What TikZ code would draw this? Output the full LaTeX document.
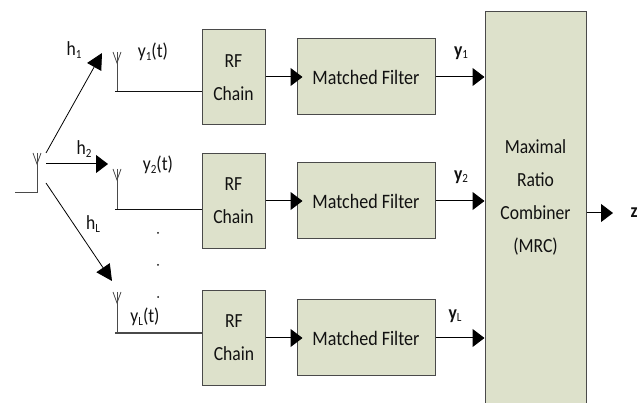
\documentclass[tikz,border=0pt]{standalone}
\usepackage{fontspec}
\setmainfont[FakeStretch=0.88]{Carlito}
\usetikzlibrary{arrows.meta,calc}
\definecolor{boxfill}{HTML}{DDE1CB}
\definecolor{boxedge}{HTML}{4A4A4A}
\definecolor{ink}{HTML}{111111}
\newcommand{\lowsub}[1]{\raisebox{-2.5pt}{\fontsize{12.5}{12.5}\selectfont #1}}
\tikzset{
  every node/.style={text=ink,font=\fontsize{20}{33}\selectfont},
  block/.style={draw=boxedge,fill=boxfill,line width=1pt,inner sep=0pt,align=center},
  rfbox/.style={block,minimum width=63,minimum height=95},
  mfbox/.style={block,minimum width=138,minimum height=76,font=\fontsize{20.5}{33}\selectfont},
  mrcbox/.style={block,minimum width=101,minimum height=393},
  wire/.style={draw=ink,line width=1pt},
  flow/.style={draw=black,line width=1pt,-{Triangle[length=12,width=18]}},
  ray/.style={draw=black,line width=.8pt,-{Triangle[length=16,width=16]}},
  aerial/.style={draw=boxedge,line width=.8pt},
  lbl/.style={inner sep=0pt},
  dotmark/.style={circle,fill=ink,inner sep=0pt,minimum size=2}
}
\newcommand{\aerialmark}[1]{%
  \draw[aerial] (#1)++(-4,-11)--++(4,11)--++(4,-11);
  \draw[aerial] (#1)++(0,-11)--++(0,11);
}
\begin{document}
\begin{tikzpicture}[x=1pt,y=-1pt]
\useasboundingbox (0,0) rectangle (643,403);
% blocks
\node[rfbox] (rf1) at (233.5,77.5) {RF\\Chain};
\node[rfbox] (rf2) at (233.5,201) {RF\\Chain};
\node[rfbox] (rf3) at (234,338) {RF\\Chain};
\node[mfbox] (mf1) at (366,77) {Matched Filter};
\node[mfbox] (mf2) at (366,201) {Matched Filter};
\node[mfbox] (mf3) at (366,338) {Matched Filter};
\node[mrcbox] (mrc) at (535.5,208.5) {};
\node[lbl,align=center] (mrctext) at (535.5,197) {Maximal\\Ratio\\Combiner\\(MRC)};
% antenna tops and feet
\coordinate (src) at (37,193);
\coordinate (srcfeed) at (15,193);
\coordinate (ant1) at (117,92);
\coordinate (ant2) at (117,210);
\coordinate (ant3) at (117,333);
\coordinate (src top) at (37,164);
\coordinate (a1 top) at (117,63);
\coordinate (a2 top) at (117,180);
\coordinate (a3 top) at (117,303);
\draw[wire,draw=boxedge] (srcfeed) -- (src) -- (src top);
\draw[wire,draw=boxedge] (ant1) -- (a1 top);
\draw[wire,draw=boxedge] (ant2) -- (a2 top);
\draw[wire,draw=boxedge] (ant3) -- (a3 top);
\aerialmark{src top}
\aerialmark{a1 top}
\aerialmark{a2 top}
\aerialmark{a3 top}
\draw[wire] (115,92) -- (rf1.west |- ant1);
\draw[wire] (115,210) -- (rf2.west |- ant2);
\draw[wire,draw=boxedge,line width=1.3pt] (115,333) -- (rf3.west |- ant3);
% rays
\coordinate (r1) at (46,153);
\coordinate (r2) at (46,164);
\coordinate (r3) at (46,183);
\coordinate (t1) at (102,53);
\coordinate (t2) at (108,164);
\coordinate (t3) at (112,281);
\draw[ray] (r1) -- (t1);
\draw[flow] (r2) -- (t2);
\draw[ray] (r3) -- (t3);
% flows
\draw[flow,shorten >=-6pt] (rf1.east |- mf1.west) -- (mf1.west);
\draw[flow,shorten >=-6pt] (rf2.east |- mf2.west) -- (mf2.west);
\draw[flow,shorten >=-6pt] (rf3.east |- mf3.west) -- (mf3.west);
\draw[flow] (mf1.east) -- (mrc.west |- mf1.east);
\draw[flow] (mf2.east) -- (mrc.west |- mf2.east);
\draw[flow] (mf3.east) -- (mrc.west |- mf3.east);
\node[lbl] (zout) at (634,213) {\textbf{z}};
\coordinate (ztip) at (613,213);
\draw[flow] (mrc.east |- ztip) -- (ztip);
% labels
\node[lbl] (h1) at (74,50) {h\lowsub{1}};
\node[lbl] (h2) at (84,149) {h\lowsub{2}};
\node[lbl] (hl) at (93,224) {h\lowsub{L}};
\node[lbl] (y1t) at (153,52) {y\lowsub{1}(t)};
\node[lbl] (y2t) at (158,165) {y\lowsub{2}(t)};
\node[lbl] (ylt) at (145,317) {y\lowsub{L}(t)};
\node[lbl] (y1) at (461,53) {\textbf{y}\lowsub{1}};
\node[lbl] (y2) at (461,177) {\textbf{y}\lowsub{2}};
\node[lbl] (yl) at (455,316) {\textbf{y}\lowsub{L}};
\node[dotmark] (d1) at (158,233) {};
\node[dotmark] (d2) at (158,265) {};
\node[dotmark] (d3) at (158,297) {};
\end{tikzpicture}
\end{document}
